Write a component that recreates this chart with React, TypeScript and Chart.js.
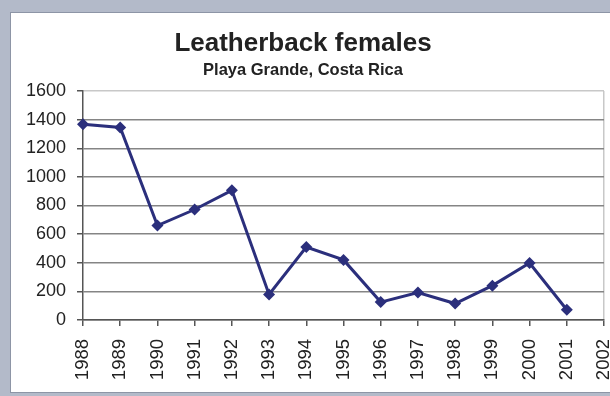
import React, { useEffect, useRef } from "react";
import { Chart, registerables } from "chart.js";

Chart.register(...registerables);

const years = ["1988", "1989", "1990", "1991", "1992", "1993", "1994", "1995", "1996", "1997", "1998", "1999", "2000", "2001", "2002"];
const females: (number | null)[] = [1368, 1345, 660, 772, 906, 178, 510, 420, 125, 192, 115, 240, 398, 72, null];
const yTicks = { min: 0, max: 1600, step: 200 };
const titleText = "Leatherback females";
const subtitleText = "Playa Grande, Costa Rica";

const FONT = "'Liberation Sans', Arial, sans-serif";

const panelPlugin = {
  id: "panel",
  beforeDraw(chart: any) {
    const { ctx, width, height } = chart;
    ctx.save();
    ctx.fillStyle = "#b3bac9";
    ctx.fillRect(0, 0, width, height);
    ctx.fillStyle = "#ffffff";
    ctx.fillRect(10, 12, width - 10, height - 15);
    ctx.strokeStyle = "#8d95a6";
    ctx.lineWidth = 1;
    ctx.strokeRect(10.5, 12.5, width - 9, height - 16);
    ctx.restore();
  },
};

export default function App() {
  const ref = useRef<HTMLCanvasElement | null>(null);
  useEffect(() => {
    if (!ref.current) return;
    const chart = new Chart(ref.current, {
      type: "line",
      data: {
        labels: years,
        datasets: [
          {
            data: females,
            borderColor: "#2b2f7c",
            backgroundColor: "#2b2f7c",
            borderWidth: 3,
            pointStyle: "rectRot",
            pointRadius: 6,
            pointBorderWidth: 0,
            tension: 0,
          },
        ],
      },
      options: {
        animation: false,
        responsive: false,
        devicePixelRatio: 1,
        layout: { padding: { left: 0, right: 4, top: 0, bottom: 0 } },
        plugins: {
          legend: { display: false },
          tooltip: { enabled: false },
          title: {
            display: true,
            text: titleText,
            color: "#222",
            font: { family: FONT, size: 26, weight: "bold" },
            padding: { top: 28, bottom: 0 },
          },
          subtitle: {
            display: true,
            text: subtitleText,
            color: "#222",
            font: { family: FONT, size: 16.5, weight: "bold" },
            padding: { top: 1, bottom: 11 },
          },
        },
        scales: {
          x: {
            offset: false,
            afterFit(scale: any) {
              scale.height = 76;
              scale.paddingRight = 0;
              scale.paddingLeft = 0;
            },
            border: { display: true, color: "#555", width: 1.5 },
            grid: {
              drawOnChartArea: true,
              color: (c: any) => (c.index === years.length - 1 ? "#c8c8c8" : "rgba(0,0,0,0)"),
              tickColor: "#555",
              tickLength: 6,
              lineWidth: 1.5,
            },
            ticks: {
              autoSkip: false,
              minRotation: 90,
              maxRotation: 90,
              padding: 13,
              color: "#222",
              font: { family: FONT, size: 18.5 },
            },
          },
          y: {
            min: yTicks.min,
            max: yTicks.max,
            afterFit(scale: any) {
              scale.width = 83;
            },
            border: { display: true, color: "#555", width: 1.5 },
            grid: {
              color: (c: any) => (c.tick && c.tick.value === yTicks.max ? "#c8c8c8" : "#858585"),
              lineWidth: 1.5,
              tickColor: "#555",
              tickLength: 6,
            },
            ticks: {
              stepSize: yTicks.step,
              padding: 11,
              color: "#222",
              font: { family: FONT, size: 18 },
              callback: (v: any) => String(v),
            },
          },
        },
      },
      plugins: [panelPlugin],
    });
    return () => chart.destroy();
  }, []);
  return (
    <div style={{ position: "fixed", left: 0, top: 0, width: 610, height: 396, background: "#b3bac9" }}>
      <canvas ref={ref} width={610} height={396} style={{ width: 610, height: 396, display: "block" }} />
    </div>
  );
}
